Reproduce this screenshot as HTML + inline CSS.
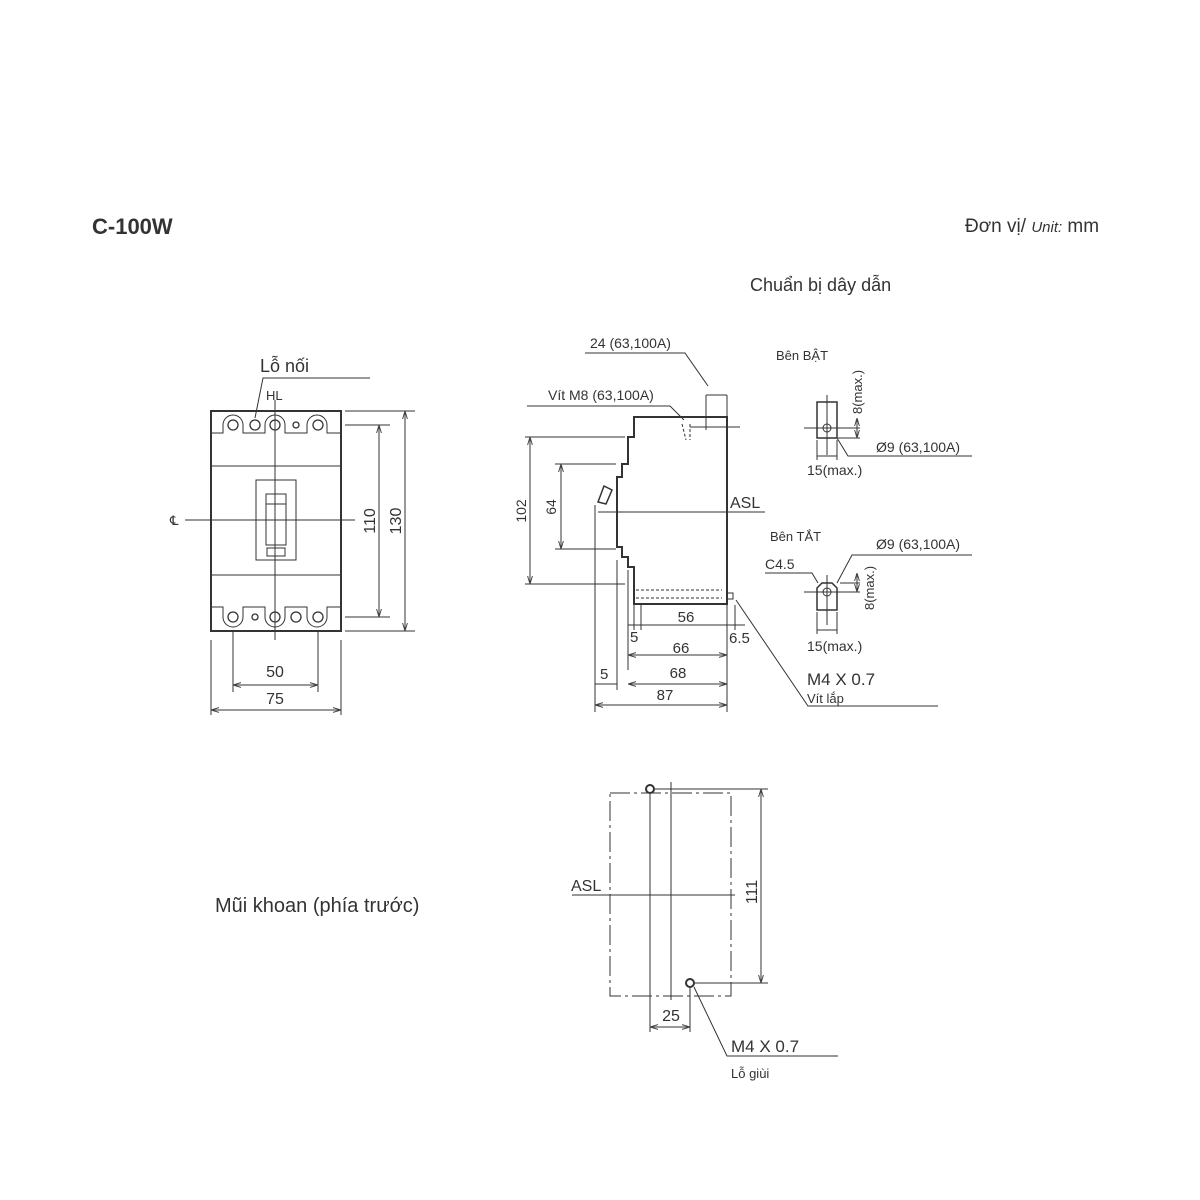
<!DOCTYPE html>
<html><head><meta charset="utf-8"><style>
body{margin:0;background:#fff;}
svg{display:block;}
text{font-family:"Liberation Sans","DejaVu Sans",sans-serif;fill:#333;}
</style></head><body>
<svg width="1200" height="1200" viewBox="0 0 1200 1200" xmlns="http://www.w3.org/2000/svg">
<defs>
<marker id="a" viewBox="0 0 10 10" refX="10" refY="5" markerWidth="8" markerHeight="8" orient="auto-start-reverse"><path d="M0,2 L10,5 L0,8" fill="none" stroke="#444" stroke-width="1.2"/></marker>
</defs>
<text x="92" y="234" font-size="22" font-weight="bold" fill="#666">C-100W</text>
<text x="965" y="232" font-size="19">Đơn vị/ <tspan font-style="italic" font-size="15">Unit:</tspan> mm</text>
<text x="750" y="291" font-size="18">Chuẩn bị dây dẫn</text>

<g stroke="#333" fill="none" stroke-width="1">
<rect x="211" y="411" width="130" height="220" stroke-width="2"/>
<path d="M211,433 H223 V425 A10,10 0 0 1 243,425 V433 H265 V425 A10,10 0 0 1 285,425 V433 H307 V425 A10,10 0 0 1 327,425 V433 H341"/>
<path d="M211,607 H223 V617 A10,10 0 0 0 243,617 V607 H265 V617 A10,10 0 0 0 285,617 V607 H307 V617 A10,10 0 0 0 327,617 V607 H341"/>
<g stroke-width="1.3">
<circle cx="233" cy="425" r="5"/><circle cx="255" cy="425" r="5"/><circle cx="275" cy="425" r="5"/><circle cx="296" cy="425" r="3"/><circle cx="318" cy="425" r="5"/>
<circle cx="233" cy="617" r="5"/><circle cx="255" cy="617" r="3"/><circle cx="275" cy="617" r="5"/><circle cx="296" cy="617" r="5"/><circle cx="318" cy="617" r="5"/>
</g>
<line x1="211" y1="466" x2="341" y2="466"/><line x1="211" y1="575" x2="341" y2="575"/>
<rect x="256" y="480" width="40" height="80"/><rect x="266" y="494" width="20" height="51"/><rect x="267" y="548" width="18" height="8"/>
<line x1="266" y1="504" x2="286" y2="504"/>
<line x1="275" y1="400" x2="275" y2="640"/>
<line x1="185" y1="520" x2="355" y2="520"/>
<path d="M255,418 L263,378 H370"/>
<line x1="345" y1="425" x2="390" y2="425"/><line x1="345" y1="617" x2="390" y2="617"/>
<line x1="345" y1="411" x2="415" y2="411"/><line x1="345" y1="631" x2="415" y2="631"/>
<line x1="379" y1="425" x2="379" y2="617" marker-start="url(#a)" marker-end="url(#a)"/>
<line x1="405" y1="411" x2="405" y2="631" marker-start="url(#a)" marker-end="url(#a)"/>
<line x1="233" y1="630" x2="233" y2="692"/><line x1="318" y1="630" x2="318" y2="692"/>
<line x1="211" y1="640" x2="211" y2="715"/><line x1="341" y1="640" x2="341" y2="715"/>
<line x1="233" y1="685" x2="318" y2="685" marker-start="url(#a)" marker-end="url(#a)"/>
<line x1="211" y1="710" x2="341" y2="710" marker-start="url(#a)" marker-end="url(#a)"/>

<path stroke-width="2" d="M634,417 H727 V604 H634 V567 H628 V557 H622 V547 H617 V477 H622 V464 H628 V437 H634 Z"/>
<path stroke-width="1.5" d="M598,502 L604,486 L612,490 L606,504 Z"/>
<path stroke-dasharray="3,2" d="M682,424 L686,440 M690,424 L690,440 M636,590 H722 M636,598 H722"/>
<line x1="690" y1="427" x2="740" y2="427"/>
<line x1="525" y1="437" x2="625" y2="437"/><line x1="525" y1="584" x2="625" y2="584"/>
<line x1="555" y1="464" x2="616" y2="464"/><line x1="555" y1="549" x2="616" y2="549"/>
<line x1="530" y1="437" x2="530" y2="584" marker-start="url(#a)" marker-end="url(#a)"/>
<line x1="561" y1="464" x2="561" y2="549" marker-start="url(#a)" marker-end="url(#a)"/>
<line x1="598" y1="512" x2="765" y2="512"/>
<rect x="727" y="593" width="6" height="6"/>
<line x1="595" y1="505" x2="595" y2="712"/><line x1="617" y1="560" x2="617" y2="690"/>
<line x1="628" y1="570" x2="628" y2="670"/><line x1="634" y1="605" x2="634" y2="630"/><line x1="641" y1="605" x2="641" y2="630"/>
<line x1="727" y1="605" x2="727" y2="712"/><line x1="735" y1="605" x2="735" y2="630"/>
<line x1="628" y1="625" x2="745" y2="625"/>
<line x1="628" y1="655" x2="727" y2="655" marker-start="url(#a)" marker-end="url(#a)"/>
<line x1="628" y1="684" x2="727" y2="684" marker-start="url(#a)" marker-end="url(#a)"/>
<line x1="595" y1="684" x2="617" y2="684"/>
<line x1="595" y1="705" x2="727" y2="705" marker-start="url(#a)" marker-end="url(#a)"/>
<line x1="706" y1="395" x2="706" y2="430"/><line x1="727" y1="395" x2="727" y2="417"/>
<line x1="706" y1="395" x2="727" y2="395"/>
<path d="M585,353 H685 L708,386"/>
<path d="M527,406 H670 L684,420"/>
<path d="M736,600 L808,706 H938"/>

<rect x="817" y="402" width="20" height="36" stroke-width="1.5"/>
<circle cx="827" cy="428" r="4"/>
<line x1="827" y1="395" x2="827" y2="455"/><line x1="804" y1="428" x2="860" y2="428"/>
<line x1="838" y1="438" x2="860" y2="438"/>
<line x1="857" y1="418" x2="857" y2="438" marker-start="url(#a)" marker-end="url(#a)"/>
<path d="M837,438 L848,456 H972"/>
<line x1="817" y1="440" x2="817" y2="460"/><line x1="837" y1="440" x2="837" y2="460"/>
<line x1="817" y1="456" x2="837" y2="456"/>
<path stroke-width="1.5" d="M817,588 L822,583 H832 L837,588 V610 H817 Z"/>
<circle cx="827" cy="592" r="4"/>
<line x1="827" y1="575" x2="827" y2="625"/><line x1="804" y1="592" x2="860" y2="592"/>
<line x1="840" y1="583" x2="860" y2="583"/>
<line x1="857" y1="573" x2="857" y2="592" marker-start="url(#a)" marker-end="url(#a)"/>
<path d="M765,573 H812 L818,583"/>
<path d="M837,583 L852,555 H972"/>
<line x1="817" y1="612" x2="817" y2="634"/><line x1="837" y1="612" x2="837" y2="634"/>
<line x1="817" y1="630" x2="837" y2="630"/>

<rect x="610" y="793" width="121" height="203" stroke-dasharray="20,4,3,4"/>
<circle cx="650" cy="789" r="4" stroke-width="2"/><circle cx="690" cy="983" r="4" stroke-width="2"/>
<line x1="650" y1="793" x2="650" y2="1032"/><line x1="671" y1="782" x2="671" y2="1000"/>
<line x1="690" y1="987" x2="690" y2="1032"/>
<line x1="572" y1="895" x2="735" y2="895"/>
<line x1="655" y1="789" x2="768" y2="789"/><line x1="695" y1="983" x2="768" y2="983"/>
<line x1="761" y1="789" x2="761" y2="983" marker-start="url(#a)" marker-end="url(#a)"/>
<line x1="650" y1="1027" x2="690" y2="1027" marker-start="url(#a)" marker-end="url(#a)"/>
<path d="M694,987 L727,1056 H838"/>
</g>

<g font-size="16">
<text x="260" y="372" font-size="18">Lỗ nối</text>
<text x="266" y="400" font-size="13">HL</text>
<text x="170" y="525" font-size="13">℄</text>
<text transform="translate(375,521) rotate(-90)" text-anchor="middle">110</text>
<text transform="translate(401,521) rotate(-90)" text-anchor="middle">130</text>
<text x="275" y="677" text-anchor="middle">50</text>
<text x="275" y="704" text-anchor="middle">75</text>
<text x="590" y="348" font-size="14">24 (63,100A)</text>
<text x="548" y="400" font-size="14">Vít  M8 (63,100A)</text>
<text transform="translate(526,511) rotate(-90)" text-anchor="middle" font-size="14">102</text>
<text transform="translate(556,507) rotate(-90)" text-anchor="middle" font-size="14">64</text>
<text x="730" y="508">ASL</text>
<text x="686" y="622" text-anchor="middle" font-size="15">56</text>
<text x="630" y="642" font-size="15">5</text>
<text x="729" y="643" font-size="15">6.5</text>
<text x="681" y="653" text-anchor="middle" font-size="15">66</text>
<text x="678" y="678" text-anchor="middle" font-size="15">68</text>
<text x="600" y="679" font-size="15">5</text>
<text x="665" y="700" text-anchor="middle" font-size="15">87</text>
<text x="807" y="685" font-size="17">M4 X 0.7</text>
<text x="807" y="703" font-size="13">Vít lắp</text>
<text x="776" y="360" font-size="13">Bên BẬT</text>
<text transform="translate(862,392) rotate(-90)" text-anchor="middle" font-size="13">8(max.)</text>
<text x="876" y="452" font-size="14">Ø9 (63,100A)</text>
<text x="807" y="475" font-size="14">15(max.)</text>
<text x="770" y="541" font-size="13">Bên TẮT</text>
<text x="876" y="549" font-size="14">Ø9 (63,100A)</text>
<text x="765" y="569" font-size="14">C4.5</text>
<text transform="translate(874,588) rotate(-90)" text-anchor="middle" font-size="13">8(max.)</text>
<text x="807" y="651" font-size="14">15(max.)</text>
<text x="215" y="912" font-size="20">Mũi khoan (phía trước)</text>
<text x="571" y="891">ASL</text>
<text transform="translate(757,892) rotate(-90)" text-anchor="middle">111</text>
<text x="671" y="1021" text-anchor="middle">25</text>
<text x="731" y="1052" font-size="17">M4 X 0.7</text>
<text x="731" y="1078" font-size="13">Lỗ giùi</text>
</g>
</svg>
</body></html>
